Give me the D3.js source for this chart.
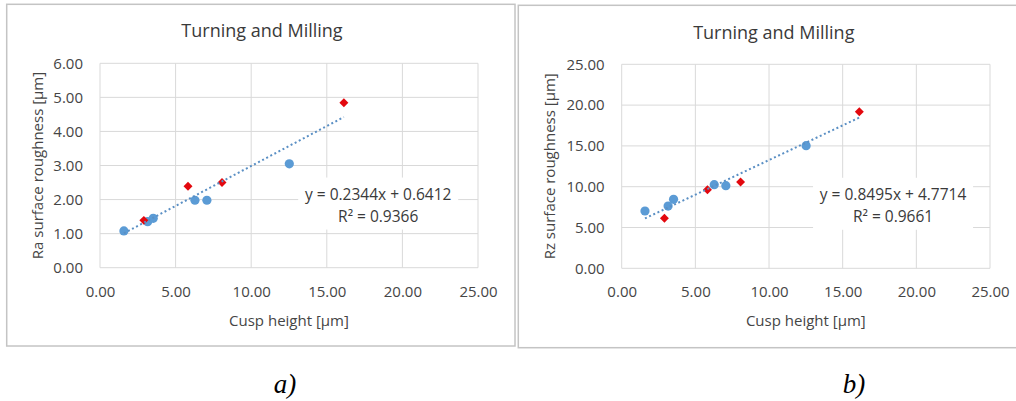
<!DOCTYPE html>
<html>
<head>
<meta charset="utf-8">
<script src="https://cdn.jsdelivr.net/npm/d3@7"></script>
<style>
  body { margin: 0; background: #fff; }
  svg { display: block; }
  text { font-family: 'Open Sans', sans-serif; }
</style>
</head>
<body>
<div id="chart"></div>
<script>
// data
const cuspBlue = [1.58, 3.15, 3.52, 6.28, 7.07, 12.52];
const cuspRed = [2.90, 5.82, 8.07, 16.13];

const raBlue = [1.08, 1.35, 1.45, 1.98, 1.98, 3.05];
const raRed = [1.39, 2.39, 2.50, 4.84];

const rzBlue = [7.02, 7.63, 8.45, 10.25, 10.12, 15.03];
const rzRed = [6.13, 9.63, 10.58, 19.19];

const xTicks = [0, 5, 10, 15, 20, 25];
const raTicks = [0, 1, 2, 3, 4, 5, 6];
const rzTicks = [0, 5, 10, 15, 20, 25];

const raFit = { slope: 0.2344, intercept: 0.6412, r2: '0.9366' };
const rzFit = { slope: 0.8495, intercept: 4.7714, r2: '0.9661' };

const chartTitle = 'Turning and Milling';
const xTitle = 'Cusp height [µm]';

//
// Set-up
//
const svg = d3.select('#chart')
  .append('svg')
    .attr('width', 1016)
    .attr('height', 401);

const fmt = d3.format('.2f');
const gridColor = '#d9d9d9';
const textColor = '#454545';

function drawPanel(cfg) {
  const frame = svg.append('g').classed('panel', true);

  // outer chart frame
  frame.append('rect')
    .attr('x', cfg.frame[0])
    .attr('y', cfg.frame[1])
    .attr('width', cfg.frame[2])
    .attr('height', cfg.frame[3])
    .style('fill', 'none')
    .style('stroke', '#c4c4c4')
    .style('stroke-width', 1.5);

  const xScale = d3.scaleLinear()
    .domain([0, 25])
    .range([cfg.left, cfg.right]);

  const yScale = d3.scaleLinear()
    .domain([0, d3.max(cfg.yTicks)])
    .range([cfg.bottom, cfg.top]);

  // gridlines
  const grid = frame.append('g').classed('grid', true);
  grid.selectAll('.hgrid')
    .data(cfg.yTicks)
    .enter().append('line')
      .attr('x1', cfg.left)
      .attr('x2', cfg.right)
      .attr('y1', d => yScale(d))
      .attr('y2', d => yScale(d))
      .style('stroke', gridColor);
  grid.selectAll('.vgrid')
    .data(xTicks)
    .enter().append('line')
      .attr('x1', d => xScale(d))
      .attr('x2', d => xScale(d))
      .attr('y1', cfg.top)
      .attr('y2', cfg.bottom)
      .style('stroke', gridColor);

  // axes (labels only)
  const xAxis = d3.axisBottom(xScale)
    .tickValues(xTicks)
    .tickFormat(fmt)
    .tickSize(0);
  const gx = frame.append('g')
    .attr('class', 'x axis')
    .attr('transform', `translate(0, ${cfg.bottom})`)
    .call(xAxis);
  gx.select('.domain').remove();
  gx.selectAll('text')
    .attr('y', 29)
    .attr('dy', null)
    .style('font-size', '15px')
    .style('font-family', "'Open Sans', sans-serif")
    .style('fill', textColor);

  const yAxis = d3.axisLeft(yScale)
    .tickValues(cfg.yTicks)
    .tickFormat(fmt)
    .tickSize(0)
    .tickPadding(17);
  const gy = frame.append('g')
    .attr('class', 'y axis')
    .attr('transform', `translate(${cfg.left}, 0)`)
    .call(yAxis);
  gy.select('.domain').remove();
  gy.selectAll('text')
    .style('font-size', '15px')
    .style('font-family', "'Open Sans', sans-serif")
    .style('fill', textColor);

  // trendline label with its white box
  const lx = xScale(cfg.labelAt[0]);
  const ly = yScale(cfg.labelAt[1]);
  frame.append('rect')
    .attr('x', lx - 80)
    .attr('y', ly - 22)
    .attr('width', 160)
    .attr('height', 52)
    .style('fill', '#fff');

  const eq = frame.append('text')
    .attr('text-anchor', 'middle')
    .style('font-size', '15.5px')
    .style('fill', '#3a3a3a');
  eq.append('tspan')
    .attr('x', lx)
    .attr('y', ly)
    .text(`y = ${cfg.fit.slope}x + ${cfg.fit.intercept}`);
  eq.append('tspan')
    .attr('x', lx)
    .attr('y', ly + 22)
    .text(`R² = ${cfg.fit.r2}`);

  // markers
  const blue = cuspBlue.map((x, i) => ({ x, y: cfg.blue[i] }));
  const red = cuspRed.map((x, i) => ({ x, y: cfg.red[i] }));

  frame.append('g')
    .selectAll('circle')
    .data(blue)
    .enter().append('circle')
      .attr('cx', d => xScale(d.x))
      .attr('cy', d => yScale(d.y))
      .attr('r', 4.6)
      .style('fill', '#5b9bd5');

  const diamond = d3.symbol().type(d3.symbolSquare).size(40);
  frame.append('g')
    .selectAll('path')
    .data(red)
    .enter().append('path')
      .attr('d', diamond)
      .attr('transform', d => `translate(${xScale(d.x)}, ${yScale(d.y)}) rotate(45)`)
      .style('fill', '#e3080e');

  // linear trendline over the data range
  const allX = cuspBlue.concat(cuspRed);
  const xMin = d3.min(allX);
  const xMax = d3.max(allX);
  frame.append('line')
    .attr('x1', xScale(xMin))
    .attr('y1', yScale(cfg.fit.slope * xMin + cfg.fit.intercept))
    .attr('x2', xScale(xMax))
    .attr('y2', yScale(cfg.fit.slope * xMax + cfg.fit.intercept))
    .style('stroke', '#5a8fc4')
    .style('stroke-width', 2)
    .style('stroke-dasharray', '2,2.6');

  // titles
  frame.append('text')
    .attr('x', cfg.titleX)
    .attr('y', cfg.titleY)
    .attr('text-anchor', 'middle')
    .style('font-size', '18px')
    .style('fill', '#3a3a3a')
    .text(chartTitle);

  frame.append('text')
    .attr('x', (cfg.left + cfg.right) / 2)
    .attr('y', cfg.bottom + 58)
    .attr('text-anchor', 'middle')
    .style('font-size', '15px')
    .style('fill', textColor)
    .text(xTitle);

  frame.append('text')
    .attr('text-anchor', 'middle')
    .attr('dy', '0.35em')
    .attr('transform', `translate(${cfg.yTitleX}, ${(cfg.top + cfg.bottom) / 2}) rotate(-90)`)
    .style('font-size', '15px')
    .style('fill', textColor)
    .text(cfg.yTitle);

  // caption below the frame
  svg.append('text')
    .attr('x', cfg.captionX)
    .attr('y', 393)
    .attr('text-anchor', 'middle')
    .style('font-family', "'Liberation Serif', 'Times New Roman', serif")
    .style('font-style', 'italic')
    .style('font-size', '27px')
    .style('fill', '#000')
    .text(cfg.caption);
}

drawPanel({
  frame: [6.7, 4.3, 508.3, 341.7],
  left: 100, right: 478, top: 63.3, bottom: 267.7,
  yTicks: raTicks,
  blue: raBlue, red: raRed, fit: raFit,
  labelAt: [18.4, 2.0],
  titleX: 262, titleY: 37.3,
  yTitle: 'Ra surface roughness [µm]', yTitleX: 37.7,
  caption: 'a)', captionX: 285
});

drawPanel({
  frame: [518.3, 5.3, 520, 342.4],
  left: 621.7, right: 990, top: 64.3, bottom: 268.3,
  yTicks: rzTicks,
  blue: rzBlue, red: rzRed, fit: rzFit,
  labelAt: [18.42, 8.4],
  titleX: 773.8, titleY: 39,
  yTitle: 'Rz surface roughness [µm]', yTitleX: 550,
  caption: 'b)', captionX: 854
});
</script>
</body>
</html>
